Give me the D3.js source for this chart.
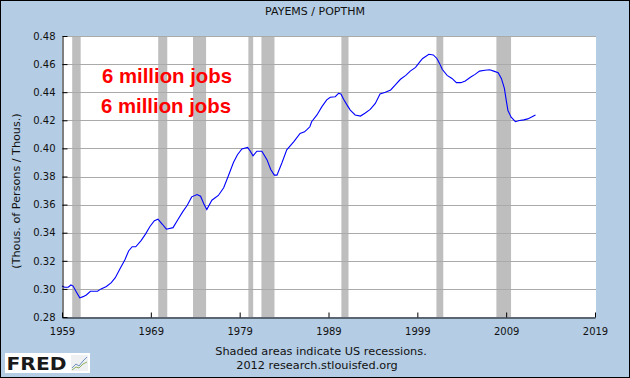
<!DOCTYPE html>
<html>
<head>
<meta charset="utf-8">
<script src="https://cdn.jsdelivr.net/npm/d3@7"></script>
<style>
  body { margin: 0; padding: 0; }
  svg { display: block; font-family: "DejaVu Sans", Verdana, sans-serif; }
</style>
</head>
<body>
<div id="chart-area"></div>
<script>
// PAYEMS / POPTHM (decimal year, ratio)
const years = [
  1959.0, 1959.3, 1959.7, 1960.0, 1960.25, 1960.6, 1961.0, 1961.37, 1961.74, 1962.2,
  1963.0, 1963.4, 1964.0, 1964.55, 1965.0, 1965.5, 1966.07, 1966.5, 1966.9, 1967.3,
  1967.9, 1968.4, 1968.9, 1969.4, 1969.8, 1970.3, 1970.75, 1971.5, 1972.07, 1972.6,
  1973.1, 1973.6, 1974.2, 1974.6, 1975.0, 1975.3, 1975.87, 1976.6, 1977.2, 1977.7,
  1978.3, 1978.75, 1979.25, 1979.9, 1980.2, 1980.5, 1980.94, 1981.5, 1982.07, 1982.5,
  1982.9, 1983.2, 1983.75, 1984.3, 1985.1, 1985.8, 1986.3, 1986.57, 1986.9, 1987.1,
  1987.7, 1988.26, 1988.8, 1989.2, 1989.76, 1990.13, 1990.4, 1990.7, 1991.08, 1991.45,
  1992.0, 1992.6, 1993.1, 1993.7, 1994.27, 1994.8, 1995.4, 1996.0, 1996.5, 1997.1,
  1997.7, 1998.2, 1998.8, 1999.3, 1999.6, 2000.3, 2000.8, 2001.2, 2001.5, 2001.8,
  2002.35, 2002.9, 2003.4, 2003.9, 2004.4, 2004.97, 2005.5, 2006.0, 2006.6, 2007.15,
  2007.6, 2008.1, 2008.46, 2008.8, 2009.0, 2009.2, 2009.56, 2010.04, 2010.5, 2010.98,
  2011.43, 2012.3
];
const ratio = [
  0.3021, 0.3012, 0.3012, 0.3028, 0.3020, 0.2980, 0.2936, 0.2945, 0.2957, 0.2983,
  0.2983, 0.3000, 0.3017, 0.3045, 0.3080, 0.3140, 0.3206, 0.3270, 0.3300, 0.3300,
  0.3344, 0.3390, 0.3444, 0.3486, 0.3496, 0.3460, 0.3425, 0.3436, 0.3496, 0.3550,
  0.3595, 0.3655, 0.3672, 0.3660, 0.3600, 0.3565, 0.3631, 0.3665, 0.3720, 0.3800,
  0.3900, 0.3955, 0.3996, 0.4007, 0.3980, 0.3947, 0.3980, 0.3980, 0.3920, 0.3850,
  0.3810, 0.3810, 0.3896, 0.3990, 0.4048, 0.4107, 0.4118, 0.4133, 0.4154, 0.4190,
  0.4238, 0.4297, 0.4345, 0.4364, 0.4368, 0.4392, 0.4387, 0.4350, 0.4310, 0.4273,
  0.4238, 0.4230, 0.4250, 0.4278, 0.4320, 0.4387, 0.4400, 0.4416, 0.4450, 0.4492,
  0.4520, 0.4550, 0.4577, 0.4617, 0.4640, 0.4670, 0.4665, 0.4640, 0.4605, 0.4563,
  0.4520, 0.4498, 0.4468, 0.4468, 0.4480, 0.4506, 0.4527, 0.4550, 0.4556, 0.4560,
  0.4550, 0.4538, 0.4498, 0.4427, 0.4345, 0.4270, 0.4222, 0.4190, 0.4198, 0.4203,
  0.4210, 0.4238
];

// US recessions (start, end) as decimal years
const recStart = [1960.15, 1969.83, 1973.75, 1979.98, 1981.45, 1990.45, 2001.15, 2007.9];
const recEnd   = [1961.10, 1970.85, 1975.22, 1980.52, 1982.92, 1991.25, 2001.92, 2009.55];

const yTicks = [0.28, 0.30, 0.32, 0.34, 0.36, 0.38, 0.40, 0.42, 0.44, 0.46, 0.48];
const xTicks = [1959, 1969, 1979, 1989, 1999, 2009, 2019];
const notes = ['6 million jobs', '6 million jobs'];

const W = 630, H = 378;
const PLOT = { LEFT: 62, RIGHT: 595, TOP: 36, BOTTOM: 317 };

const svg = d3.select('#chart-area')
  .append('svg')
  .attr('width', W)
  .attr('height', H);

// background + frame
svg.append('rect')
  .attr('x', 0.5).attr('y', 0.5)
  .attr('width', W - 1).attr('height', H - 1)
  .attr('fill', '#b4cce4')
  .attr('stroke', '#000');

svg.append('rect')
  .attr('x', PLOT.LEFT).attr('y', PLOT.TOP)
  .attr('width', PLOT.RIGHT - PLOT.LEFT + 1)
  .attr('height', PLOT.BOTTOM - PLOT.TOP)
  .attr('fill', '#fff');

const x = d3.scaleLinear().domain([1959, 2019]).range([PLOT.LEFT, PLOT.RIGHT]);
const y = d3.scaleLinear().domain([0.28, 0.48]).range([PLOT.BOTTOM, PLOT.TOP]);

// recession shading
svg.append('g')
  .selectAll('rect')
  .data(recStart.map((s, i) => [s, recEnd[i]]))
  .enter().append('rect')
  .attr('x', d => x(d[0]))
  .attr('y', PLOT.TOP)
  .attr('width', d => x(d[1]) - x(d[0]))
  .attr('height', PLOT.BOTTOM - PLOT.TOP)
  .attr('fill', '#bebebe');

// horizontal grid
svg.append('g')
  .selectAll('line')
  .data(yTicks.slice(1))
  .enter().append('line')
  .attr('x1', PLOT.LEFT).attr('x2', PLOT.RIGHT + 1)
  .attr('y1', d => Math.round(y(d)) + 0.5)
  .attr('y2', d => Math.round(y(d)) + 0.5)
  .attr('stroke', '#aaaaaa')
  .attr('shape-rendering', 'crispEdges');

// series line
const line = d3.line()
  .x((d, i) => x(years[i]))
  .y(d => y(d));

svg.append('path')
  .datum(ratio)
  .attr('d', line)
  .attr('fill', 'none')
  .attr('stroke', '#0000ff')
  .attr('stroke-width', 1.1);

// axes
const yAxisCall = d3.axisLeft(y)
  .tickValues(yTicks)
  .tickFormat(d3.format('.2f'))
  .tickSizeInner(-5)
  .tickSizeOuter(0)
  .tickPadding(7);

const yAxisGroup = svg.append('g')
  .attr('transform', `translate(${PLOT.LEFT + 0.5},0)`)
  .call(yAxisCall);

const xAxisCall = d3.axisBottom(x)
  .tickValues(xTicks)
  .tickFormat(d3.format('d'))
  .tickSizeInner(-5)
  .tickSizeOuter(0)
  .tickPadding(10);

const xAxisGroup = svg.append('g')
  .attr('transform', `translate(0,${PLOT.BOTTOM + 0.5})`)
  .call(xAxisCall);

[xAxisGroup, yAxisGroup].forEach(g => {
  g.attr('font-family', '"DejaVu Sans", sans-serif')
    .attr('font-size', 10);
  g.selectAll('text').attr('fill', '#111');
  g.selectAll('line').attr('stroke', '#000');
  g.select('.domain').attr('stroke', '#000');
});

// title + axis label
svg.append('text')
  .attr('x', 315).attr('y', 15)
  .attr('text-anchor', 'middle')
  .attr('font-size', 11)
  .attr('fill', '#111')
  .text('PAYEMS / POPTHM');

svg.append('text')
  .attr('transform', 'rotate(-90)')
  .attr('x', -191)
  .attr('y', 20)
  .attr('text-anchor', 'middle')
  .attr('font-size', 11.2)
  .attr('fill', '#111')
  .text('(Thous. of Persons / Thous.)');

// annotations
svg.append('g')
  .selectAll('text')
  .data(notes)
  .enter().append('text')
  .attr('x', (d, i) => i === 0 ? 102 : 101)
  .attr('y', (d, i) => 83 + i * 30)
  .style('font-family', '"Liberation Sans", Arial, sans-serif')
  .attr('font-weight', 'bold')
  .attr('font-size', 20.5)
  .attr('textLength', 130)
  .attr('lengthAdjust', 'spacingAndGlyphs')
  .attr('fill', '#ff0000')
  .text(d => d);

// footer
svg.append('text')
  .attr('x', 321).attr('y', 355)
  .attr('text-anchor', 'middle')
  .attr('font-size', 11.3)
  .attr('fill', '#111')
  .text('Shaded areas indicate US recessions.');

svg.append('text')
  .attr('x', 317).attr('y', 369)
  .attr('text-anchor', 'middle')
  .attr('font-size', 11.3)
  .attr('fill', '#111')
  .text('2012 research.stlouisfed.org');

// FRED logo
const logo = svg.append('g').attr('transform', 'translate(5,353)');
logo.append('rect')
  .attr('width', 85).attr('height', 20)
  .attr('fill', '#fff');
logo.append('text')
  .attr('x', 1.5).attr('y', 17)
  .attr('font-family', '"DejaVu Sans", sans-serif')
  .attr('font-weight', 'bold')
  .attr('font-size', 18.5)
  .attr('textLength', 60)
  .attr('lengthAdjust', 'spacingAndGlyphs')
  .attr('fill', '#1a1a1a')
  .text('FRED');
logo.append('rect')
  .attr('x', 66).attr('y', 2).attr('width', 17).attr('height', 16)
  .attr('fill', '#eef0f2');
logo.append('path')
  .attr('d', 'M67,15 L71,11 L74,13 L78,8 L82,4')
  .attr('fill', 'none').attr('stroke', '#6f8fc0').attr('stroke-width', 1);
logo.append('path')
  .attr('d', 'M67,17 L71,14 L74,15 L78,11 L82,9')
  .attr('fill', 'none').attr('stroke', '#8fb060').attr('stroke-width', 1);
</script>
</body>
</html>
